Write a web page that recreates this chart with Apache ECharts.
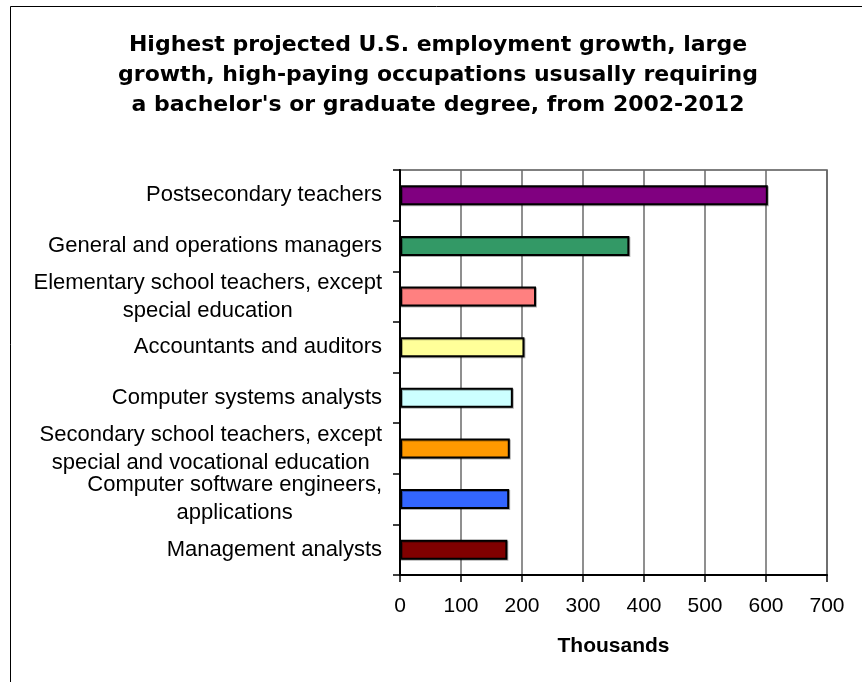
<!DOCTYPE html>
<html>
<head>
<meta charset="utf-8">
<script src="https://cdn.jsdelivr.net/npm/echarts@6/dist/echarts.min.js"></script>
<style>
  html, body { margin: 0; padding: 0; background: #fff; }
  #chart { width: 862px; height: 682px; }
</style>
</head>
<body>
<div id="chart"></div>
<script>
// Occupations (top to bottom) and projected employment growth, thousands
const occupations = [
  'Postsecondary teachers',
  'General and operations managers',
  'Elementary school teachers, except\nspecial education',
  'Accountants and auditors',
  'Computer systems analysts',
  'Secondary school teachers, except\nspecial and vocational education',
  'Computer software engineers,\napplications',
  'Management analysts'
];
const growthThousands = [603, 376, 223, 204, 185, 180, 179, 176];
const xTicks = [0, 700, 100]; // min, max, step

const barColors = ['#800080', '#339966', '#FF8080', '#FFFF99', '#CCFFFF', '#FF9900', '#3366FF', '#800000'];
const FONT = "'Liberation Sans', Arial, Helvetica, sans-serif";
const TITLE_FONT = "'DejaVu Sans', 'Liberation Sans', Arial, sans-serif";

const chart = echarts.init(document.getElementById('chart'), null, { renderer: 'canvas' });

chart.setOption({
  backgroundColor: '#ffffff',
  animation: false,
  title: {
    text: "Highest projected U.S. employment growth, large\ngrowth, high-paying occupations ususally requiring\na bachelor's or graduate degree, from 2002-2012",
    left: 438,
    top: 30,
    padding: 0,
    textAlign: 'center',
    textStyle: {
      fontFamily: TITLE_FONT,
      fontSize: 22,
      fontWeight: 'bold',
      color: '#000',
      lineHeight: 30
    }
  },
  graphic: [{
    type: 'rect',
    shape: { x: 10.5, y: 6.5, width: 900, height: 700 },
    style: { fill: 'none', stroke: '#000', lineWidth: 1 },
    silent: true,
    z: -10
  }],
  grid: {
    left: 400,
    right: 35,
    top: 170,
    bottom: 107,
    show: true,
    borderColor: '#555',
    borderWidth: 1.5,
    backgroundColor: 'transparent',
    outerBoundsMode: 'none',
    containLabel: false
  },
  xAxis: {
    type: 'value',
    min: xTicks[0],
    max: xTicks[1],
    interval: xTicks[2],
    name: 'Thousands',
    nameLocation: 'middle',
    nameGap: 61,
    nameTextStyle: {
      fontFamily: FONT,
      fontSize: 21,
      fontWeight: 'bold',
      color: '#000'
    },
    axisLine: { show: true, lineStyle: { color: '#000', width: 2 } },
    axisTick: { show: true, inside: false, length: 7, lineStyle: { color: '#000', width: 1.5 } },
    axisLabel: {
      margin: 21,
      fontFamily: FONT,
      fontSize: 21,
      color: '#000'
    },
    splitLine: { show: true, lineStyle: { color: '#6a6a6a', width: 1.5 } }
  },
  yAxis: {
    type: 'category',
    inverse: true,
    data: occupations,
    axisLine: { show: true, lineStyle: { color: '#000', width: 2 } },
    axisTick: { show: true, inside: false, length: 7, lineStyle: { color: '#000', width: 1.5 } },
    axisLabel: {
      margin: 18,
      fontFamily: FONT,
      fontSize: 22,
      color: '#000',
      lineHeight: 28,
      interval: 0,
      formatter: function (value) {
        return value.split('\n').map(function (line) { return '{c|' + line + '}'; }).join('\n');
      },
      rich: {
        c: {
          align: 'center',
          fontFamily: FONT,
          fontSize: 22,
          lineHeight: 28,
          color: '#000'
        }
      }
    },
    splitLine: { show: false }
  },
  series: [{
    type: 'bar',
    barWidth: 20,
    data: growthThousands.map(function (v, i) {
      return { value: v, itemStyle: { color: barColors[i] } };
    }),
    itemStyle: {
      borderColor: '#000',
      borderWidth: 2,
      shadowColor: 'rgba(0,0,0,0.3)',
      shadowOffsetX: 1,
      shadowOffsetY: 1,
      shadowBlur: 0
    },
    label: { show: false }
  }]
});
</script>
</body>
</html>
